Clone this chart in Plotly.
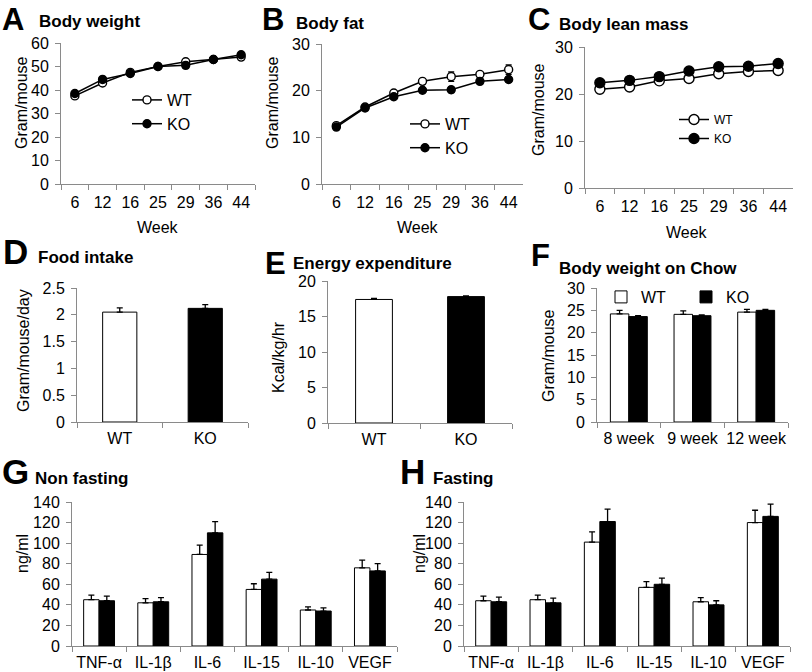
import plotly.graph_objects as go

# ---------------- data ----------------
weeks = ["6", "12", "16", "25", "29", "36", "44"]
bw_wt = [37.5, 43, 47.5, 50, 52, 53, 54]
bw_wt_err = [0.6, 0.6, 0.6, 0.6, 0.8, 0.6, 0.6]
bw_ko = [38.5, 44.5, 47, 50, 50.5, 53, 55]
bw_ko_err = [0.6, 0.6, 0.6, 0.6, 0.6, 0.6, 0.6]

fat_wt = [12.5, 16.5, 19.5, 22, 23, 23.5, 24.5]
fat_wt_err = [0.3, 0.3, 0.4, 0.5, 1.0, 0.6, 1.0]
fat_ko = [12.2, 16.3, 18.7, 20.1, 20.2, 22, 22.4]
fat_ko_err = [0.3, 0.3, 0.3, 0.4, 0.6, 0.4, 0.4]

lean_wt = [21, 21.5, 22.8, 23.3, 24.3, 24.8, 25]
lean_wt_err = [0.3, 0.3, 0.3, 0.3, 0.3, 0.3, 0.3]
lean_ko = [22.4, 22.9, 23.7, 24.9, 25.8, 25.9, 26.5]
lean_ko_err = [0.3, 0.3, 0.3, 0.3, 0.3, 0.3, 0.3]

genotypes = ["WT", "KO"]
food = [2.05, 2.12]
food_err = [0.08, 0.07]
energy = [17.4, 17.8]
energy_err = [0.15, 0.1]

chow_weeks = ["8 week", "9 week", "12 week"]
chow_wt = [24.2, 24.1, 24.6]
chow_wt_err = [0.8, 0.8, 0.6]
chow_ko = [23.6, 23.8, 25.0]
chow_ko_err = [0.2, 0.2, 0.2]

cytokines = ["TNF-α", "IL-1β", "IL-6", "IL-15", "IL-10", "VEGF"]
nf_wt = [45, 42, 89, 55, 35, 76]
nf_wt_err = [4.5, 4, 9, 5.5, 3, 7.5]
nf_ko = [44, 43, 110, 65, 34, 73]
nf_ko_err = [4.5, 4, 11, 6.5, 3, 7]
fa_wt = [44, 45, 101, 57, 43, 120]
fa_wt_err = [4.5, 4.5, 10, 5.5, 4, 12]
fa_ko = [43, 42, 121, 60, 40, 126]
fa_ko_err = [4.5, 4.5, 12, 6, 4, 12]

# ---------------- layout helpers ----------------
W, H = 812, 672
FONT = "Liberation Sans, Arial, sans-serif"
AXC = "#8a8a8a"


def px(x):
    return x / W


def py(y):
    return 1 - y / H


fig = go.Figure()


def err(arr, plus_only=False):
    d = dict(type="data", array=arr, color="black", thickness=1.3, width=3, visible=True)
    if plus_only:
        d["symmetric"] = False
        d["arrayminus"] = [0] * len(arr)
    return d


def line_pair(ax, wt, wt_e, ko, ko_e, legend, msize):
    xa = "x" if ax == 1 else f"x{ax}"
    ya = "y" if ax == 1 else f"y{ax}"
    fig.add_trace(go.Scatter(x=weeks, y=wt, name="WT", mode="lines+markers", xaxis=xa, yaxis=ya,
                             line=dict(color="black", width=1.5),
                             marker=dict(symbol="circle", size=msize, color="white",
                                         line=dict(color="black", width=1.4)),
                             error_y=err(wt_e), legend=legend))
    fig.add_trace(go.Scatter(x=weeks, y=ko, name="KO", mode="lines+markers", xaxis=xa, yaxis=ya,
                             line=dict(color="black", width=1.5),
                             marker=dict(symbol="circle", size=msize, color="black",
                                         line=dict(color="black", width=1.4)),
                             error_y=err(ko_e), legend=legend))


line_pair(1, bw_wt, bw_wt_err, bw_ko, bw_ko_err, "legend", 8)
line_pair(2, fat_wt, fat_wt_err, fat_ko, fat_ko_err, "legend2", 8)
line_pair(3, lean_wt, lean_wt_err, lean_ko, lean_ko_err, "legend3", 10)

# D, E single bars
for ax, vals, e in [(4, food, food_err), (5, energy, energy_err)]:
    fig.add_trace(go.Bar(x=genotypes, y=vals, xaxis=f"x{ax}", yaxis=f"y{ax}", width=0.4,
                         marker=dict(color=["white", "black"], line=dict(color="black", width=1)),
                         error_y=err(e, True), showlegend=False))


def bar_pair(ax, cats, wt, wt_e, ko, ko_e, legend=None, bw=0.285):
    show = legend is not None
    fig.add_trace(go.Bar(x=cats, y=wt, name="WT", xaxis=f"x{ax}", yaxis=f"y{ax}", width=bw, offset=-bw,
                         marker=dict(color="white", line=dict(color="black", width=1)),
                         error_y=err(wt_e, True), showlegend=show, legend=legend or "legend"))
    fig.add_trace(go.Bar(x=cats, y=ko, name="KO", xaxis=f"x{ax}", yaxis=f"y{ax}", width=bw, offset=0,
                         marker=dict(color="black", line=dict(color="black", width=1)),
                         error_y=err(ko_e, True), showlegend=show, legend=legend or "legend"))


bar_pair(6, chow_weeks, chow_wt, chow_wt_err, chow_ko, chow_ko_err, legend="legend4", bw=0.29)
bar_pair(7, cytokines, nf_wt, nf_wt_err, nf_ko, nf_ko_err)
bar_pair(8, cytokines, fa_wt, fa_wt_err, fa_ko, fa_ko_err)

# panel boxes in pixels: (left, right, top, bottom), y range, dtick, n categories, x label standoff
panels = {
    1: (61, 255, 43, 184, [0, 60], 10, 7, 4),
    2: (322, 523, 44, 184, [0, 30], 10, 7, 4),
    3: (585, 793, 47, 188, [0, 30], 10, 7, 4),
    4: (77, 248, 288, 422, [0, 2.5], 0.5, 2, 2),
    5: (328, 512, 281, 423, [0, 20], 5, 2, 2),
    6: (597, 788, 288, 422, [0, 30], 5, 3, 2),
    7: (72, 397, 502, 646, [0, 140], 20, 6, 2),
    8: (464, 790, 502, 646, [0, 140], 20, 6, 2),
}

layout = dict(
    width=W, height=H, margin=dict(l=0, r=0, t=0, b=0, autoexpand=False),
    paper_bgcolor="white", plot_bgcolor="white",
    font=dict(family=FONT, size=16, color="black"),
    barmode="group", template="none",
)
for k, (l, r, t, b, yr, dt, n, so) in panels.items():
    xs = "xaxis" if k == 1 else f"xaxis{k}"
    ys = "yaxis" if k == 1 else f"yaxis{k}"
    ya = "y" if k == 1 else f"y{k}"
    xa = "x" if k == 1 else f"x{k}"
    layout[xs] = dict(domain=[px(l), px(r)], anchor=ya, type="category", automargin=False,
                      range=[-0.5, n - 0.5], showline=True, linecolor=AXC, linewidth=1,
                      ticks="outside", tickson="boundaries", ticklen=5, tickcolor=AXC,
                      tickangle=0, showgrid=False, zeroline=False, ticklabelstandoff=so,
                      tickfont=dict(size=16, color="black"), fixedrange=True)
    layout[ys] = dict(domain=[py(b), py(t)], anchor=xa, range=yr, dtick=dt, automargin=False,
                      showline=True, linecolor=AXC, linewidth=1, ticks="outside", ticklen=5,
                      tickcolor=AXC, showgrid=False, zeroline=False, ticklabelstandoff=3,
                      tickfont=dict(size=16, color="black"), fixedrange=True)

# legends
layout["legend"] = dict(x=px(127), y=py(83), xanchor="left", yanchor="top", bgcolor="rgba(0,0,0,0)",
                        font=dict(size=16), tracegroupgap=0, itemwidth=30)
layout["legend2"] = dict(x=px(405), y=py(107), xanchor="left", yanchor="top", bgcolor="rgba(0,0,0,0)",
                         font=dict(size=16), itemwidth=30)
layout["legend3"] = dict(x=px(674), y=py(105), xanchor="left", yanchor="top", bgcolor="rgba(0,0,0,0)",
                         font=dict(size=12), itemwidth=30)
layout["legend4"] = dict(x=px(601), y=py(280), xanchor="left", yanchor="top", bgcolor="rgba(0,0,0,0)",
                         orientation="h", font=dict(size=16), entrywidth=40, itemwidth=30)

annotations = []


def ann(text, x, y, size=16, bold=False, angle=0, xanchor="center"):
    annotations.append(dict(text=f"<b>{text}</b>" if bold else text, x=px(x), y=py(y),
                            xref="paper", yref="paper", xanchor=xanchor, yanchor="middle",
                            showarrow=False, textangle=angle,
                            font=dict(family=FONT, size=size, color="black")))


# panel letters and titles
ann("A", 0, 19, 31, True, xanchor="left")
ann("Body weight", 37, 21, 17, True, xanchor="left")
ann("B", 260, 19, 31, True, xanchor="left")
ann("Body fat", 294, 24, 17, True, xanchor="left")
ann("C", 526, 19, 31, True, xanchor="left")
ann("Body lean mass", 557, 25, 17, True, xanchor="left")
ann("D", 1, 251, 35, True, xanchor="left")
ann("Food intake", 36, 257, 17, True, xanchor="left")
ann("E", 263, 263, 31, True, xanchor="left")
ann("Energy expenditure", 291, 264, 17, True, xanchor="left")
ann("F", 529, 255, 31, True, xanchor="left")
ann("Body weight on Chow", 557, 268, 17, True, xanchor="left")
ann("G", 0, 472, 35, True, xanchor="left")
ann("Non fasting", 33, 478, 17, True, xanchor="left")
ann("H", 398, 472, 35, True, xanchor="left")
ann("Fasting", 431, 478, 17, True, xanchor="left")

# axis titles
ann("Gram/mouse", 21, 103, 16, angle=-90)
ann("Gram/mouse", 272, 103, 16, angle=-90)
ann("Gram/mouse", 539, 110, 16, angle=-90)
ann("Week", 158, 227, 16)
ann("Week", 418, 227, 16)
ann("Week", 687, 232, 16)
ann("Gram/mouse/day", 23, 351, 16, angle=-90)
ann("Kcal/kg/hr", 278, 357, 16, angle=-90)
ann("Gram/mouse", 548, 356, 16, angle=-90)
ann("ng/ml", 22, 554, 16, angle=-90)
ann("ng/ml", 419, 554, 16, angle=-90)

layout["annotations"] = annotations
fig.update_layout(**layout)
fig.write_html("out.html", config={"displayModeBar": False},
               post_script="document.body.style.margin='0';document.body.style.overflow='hidden';")
